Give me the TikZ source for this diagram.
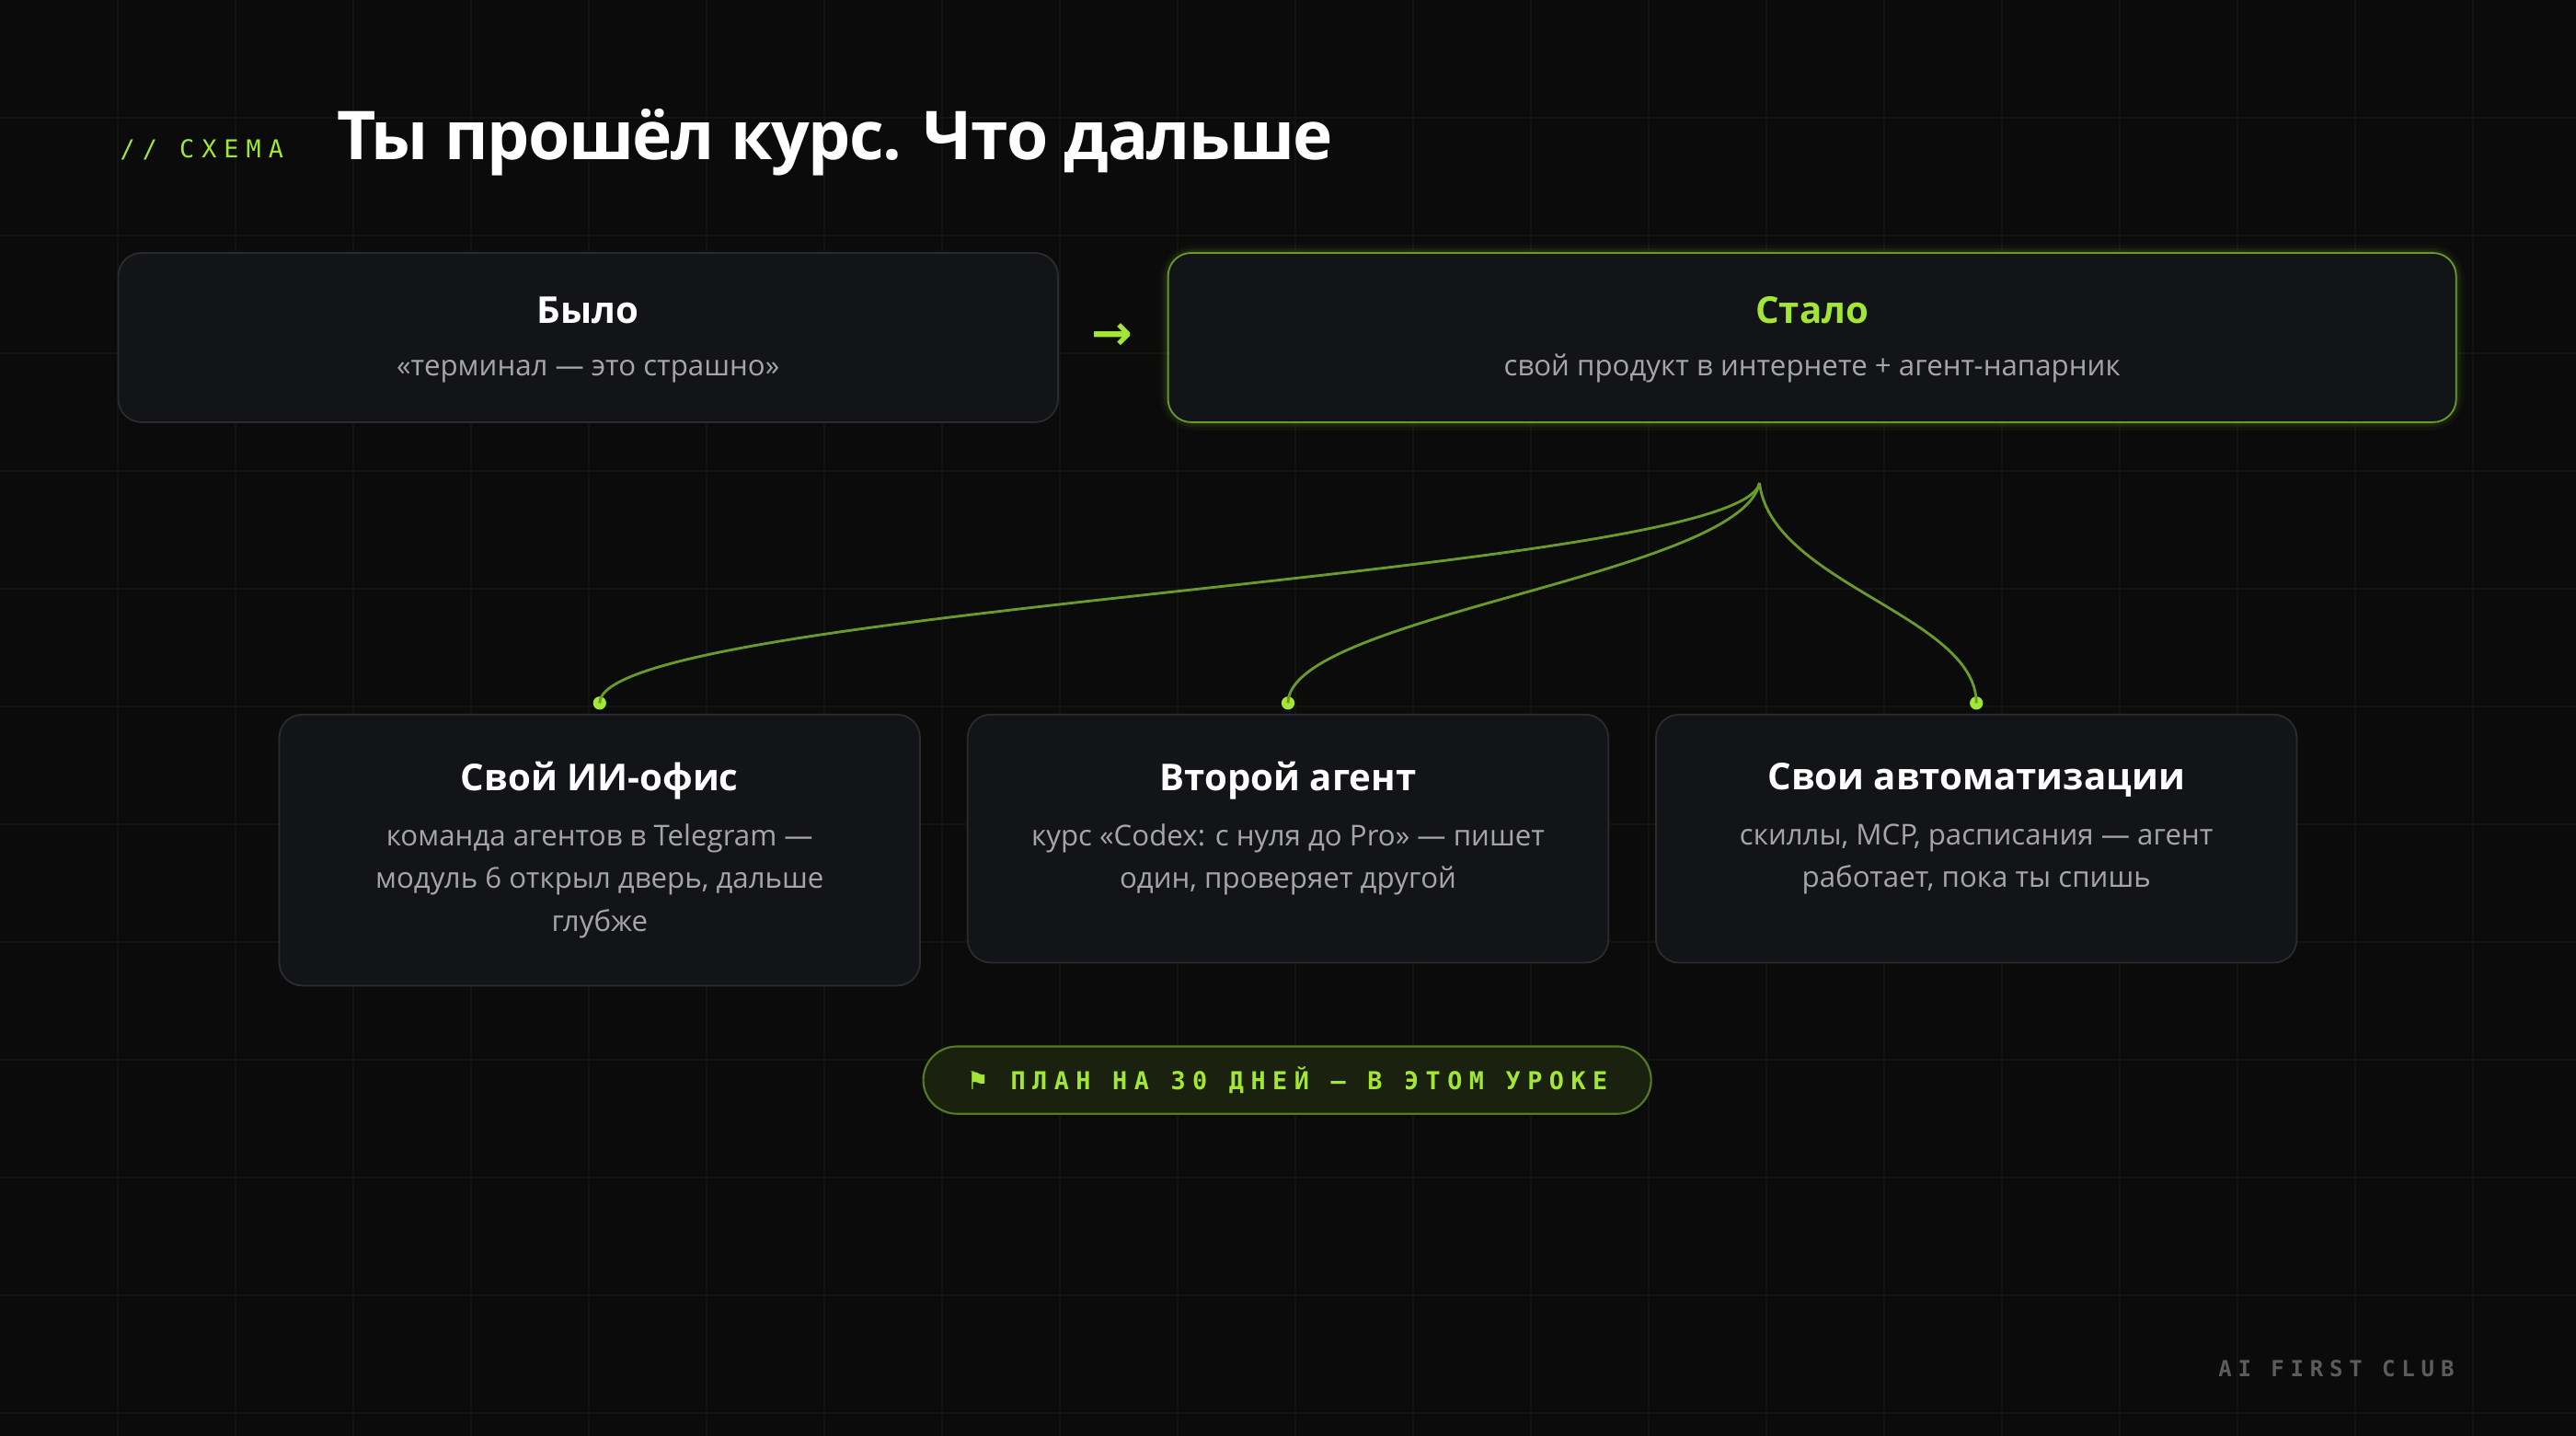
\documentclass[tikz,border=0pt]{standalone}
\usepackage{fontspec}
\setmainfont{Open Sans}
\newfontfamily\monof[LetterSpace=28]{DejaVu Sans Mono}
\newfontfamily\monoh[LetterSpace=30]{DejaVu Sans Mono}
\newfontfamily\symf{DejaVu Sans}
\newfontfamily\titf[LetterSpace=-2]{Open Sans}
\definecolor{bg}{HTML}{0B0B0B}
\definecolor{gridc}{HTML}{121410}
\definecolor{card}{HTML}{131418}
\definecolor{cardb}{HTML}{2A2C30}
\definecolor{lime}{HTML}{A3E635}
\definecolor{limed}{HTML}{6A9A2A}
\definecolor{subc}{HTML}{A6A6AA}
\begin{document}
\begin{tikzpicture}[x=1pt,y=-1pt,
  card/.style={draw=cardb,fill=card,rounded corners=14pt,line width=1pt},
  head/.style={font=\bfseries\fontsize{22.5}{26}\selectfont,text=white},
  sub/.style={font=\fontsize{17.5}{26}\selectfont,text=subc,align=center},
  link/.style={draw=limed,line width=1.6pt},
  dot/.style={circle,fill=lime,inner sep=0pt,minimum size=8pt}]
\fill[bg] (0,0) rectangle (1568,874);
\useasboundingbox (0,0) rectangle (1568,874);
\foreach \i in {1,...,21} \draw[gridc,line width=0.8pt] (\i*71.68,0) -- (\i*71.68,874);
\foreach \j in {1,...,12} \draw[gridc,line width=1pt] (0,\j*71.68) -- (1568,\j*71.68);
% title
\node[anchor=base west,text=lime,inner sep=0] (tag) at (73,96) {\monoh\fontsize{15}{18}\selectfont // СХЕМА};
\node[anchor=base west,text=white,inner sep=0] (title) at (205,97) {\titf\bfseries\fontsize{41}{44}\selectfont Ты прошёл курс. Что дальше};
% top cards
\path[card] (72,154) rectangle (644,257);
\node[head,anchor=base] (h1) at (358,197) {Было};
\node[sub,anchor=base] (s1) at (358,229) {«терминал — это страшно»};
\foreach \w/\o in {10/0.04,6/0.06,3/0.08} \draw[lime,opacity=\o,line width=\w pt,rounded corners=16pt] (711,154) rectangle (1495,257);
\path[card,draw=limed] (711,154) rectangle (1495,257);
\node[head,text=lime,anchor=base] (h2) at (1103,197) {Стало};
\node[sub,anchor=base] (s2) at (1103,229) {свой продукт в интернете + агент-напарник};
\node[text=lime,inner sep=0] (arr) at (677,205) {\symf\bfseries\fontsize{30}{30}\selectfont →};
% bottom cards
\path[card] (170,435) rectangle (560,600);
\path[card] (589,435) rectangle (979,586);
\path[card] (1008,435) rectangle (1398,586);
\node[head] (b1) at (365,475) {Свой ИИ-офис};
\node[sub,anchor=north] (t1) at (365,498) {команда агентов в Telegram —\\модуль 6 открыл дверь, дальше\\глубже};
\node[head] (b2) at (784,475) {Второй агент};
\node[sub,anchor=north] (t2) at (784,498) {курс «Codex: с нуля до Pro» — пишет\\один, проверяет другой};
\node[head] (b3) at (1203,475) {Свои автоматизации};
\node[sub,anchor=north] (t3) at (1203,498) {скиллы, MCP, расписания — агент\\работает, пока ты спишь};
% connectors
\coordinate (hub) at (1071,294);
\node[dot] (d1) at (365,428) {};
\node[dot] (d2) at (784,428) {};
\node[dot] (d3) at (1203,428) {};
\draw[link] (hub) .. controls (1060,350) and (365,370) .. (d1.center);
\draw[link] (hub) .. controls (1060,350) and (784,375) .. (d2.center);
\draw[link] (hub) .. controls (1078,355) and (1203,375) .. (d3.center);
% pill
\draw[draw=limed!80!black,fill=lime!10!bg,line width=1.2pt,rounded corners=20.5pt] (562,637) rectangle (1005,678);
\node[text=lime,inner sep=0] (pill) at (783.5,657.5) {\monof\bfseries\fontsize{15}{18}\selectfont {\symf ⚑} ПЛАН НА 30 ДНЕЙ — В ЭТОМ УРОКЕ};
\node[anchor=base east,text=white!33!bg,inner sep=0] (brand) at (1494,838) {\monof\bfseries\fontsize{13.5}{16}\selectfont AI FIRST CLUB};
\end{tikzpicture}
\end{document}
